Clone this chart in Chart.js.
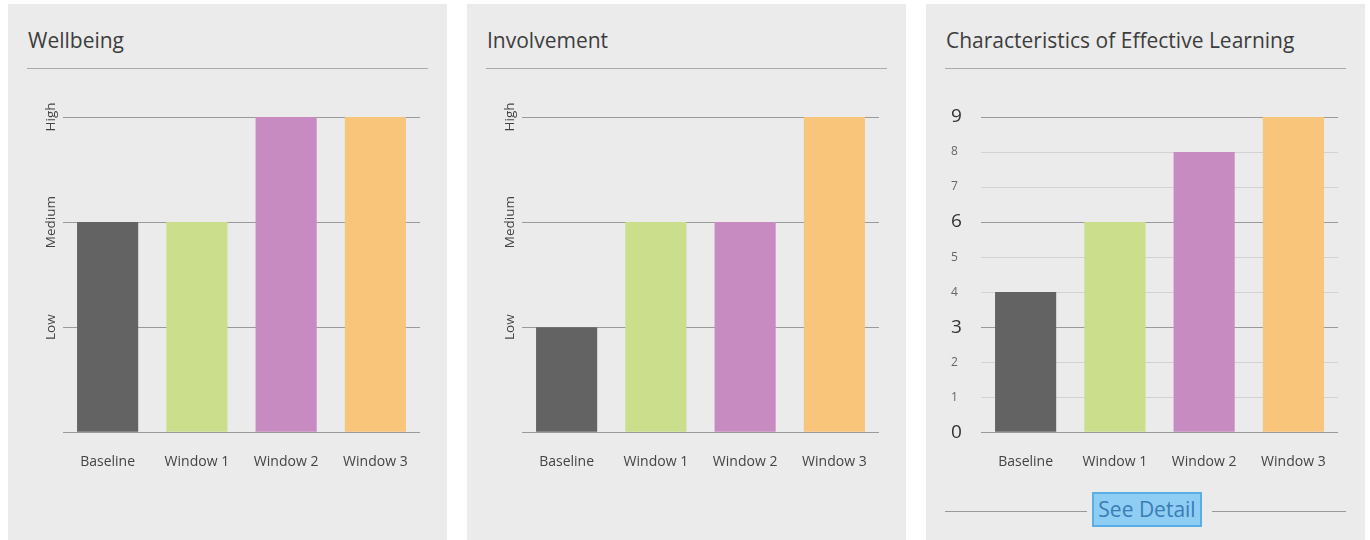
<!DOCTYPE html>
<html>
<head>
<meta charset="utf-8">
<script src="https://cdn.jsdelivr.net/npm/chart.js@4.4.0/dist/chart.umd.min.js"></script>
<style>
  body { margin: 0; background: #fff; font-family: "Open Sans", sans-serif; }
  .panel { position: absolute; top: 4px; width: 439px; height: 536px; background: #ebebeb; }
  .panel h2 { position: absolute; left: 20px; top: 22px; margin: 0; font-size: 21px; font-weight: 400; color: #3d3d3d; white-space: nowrap; }
  .rule { position: absolute; left: 19px; top: 64px; width: 401px; height: 1px; background: #aaa; }
  .panel canvas { position: absolute; left: 0; top: 86px; }
  .detail-line { position: absolute; top: 507px; height: 1px; background: #999; }
  .detail { position: absolute; left: 166px; top: 488px; width: 106px; height: 31px; background: #8ecdf4;
            border: 2px solid #5aaee6; color: #3a7db3; font-size: 21px; line-height: 31px; text-align: center; }
</style>
</head>
<body>
<div class="panel" style="left:8px">
  <h2>Wellbeing</h2><div class="rule"></div>
  <canvas id="wellbeingChart" width="439" height="422"></canvas>
</div>
<div class="panel" style="left:467px">
  <h2>Involvement</h2><div class="rule"></div>
  <canvas id="involvementChart" width="439" height="422"></canvas>
</div>
<div class="panel" style="left:926px">
  <h2>Characteristics of Effective Learning</h2><div class="rule"></div>
  <canvas id="learningChart" width="439" height="422"></canvas>
  <div class="detail-line" style="left:19px;width:142px"></div>
  <div class="detail">See Detail</div>
  <div class="detail-line" style="left:286px;width:134px"></div>
</div>
<script>
const categories = ["Baseline", "Window 1", "Window 2", "Window 3"];
const wellbeingValues = [2, 2, 3, 3];
const involvementValues = [1, 2, 2, 3];
const learningValues = [4, 6, 8, 9];
const levelLabels = ["", "Low", "Medium", "High"];
const barColors = ["#636363", "#cbde8b", "#c78bc1", "#f8c57b"];

// rotated Low / Medium / High labels next to the y axis
const sideLabels = {
  id: "sideLabels",
  afterDraw(chart, args, opts) {
    if (!opts.labels) return;
    const y = chart.scales.y;
    const ctx = chart.ctx;
    ctx.save();
    ctx.font = '13.5px "Open Sans"';
    ctx.fillStyle = "#444";
    ctx.textAlign = "center";
    ctx.textBaseline = "middle";
    y.ticks.forEach((t) => {
      const lab = opts.labels[t.value];
      if (!lab) return;
      ctx.save();
      ctx.translate(opts.x, y.getPixelForValue(t.value));
      ctx.rotate(-Math.PI / 2);
      ctx.fillText(lab, 0, 0);
      ctx.restore();
    });
    ctx.restore();
  },
};

const createChart = (id, values, max, numeric) => {
  const ctx = document.getElementById(id).getContext("2d");
  return new Chart(ctx, {
    type: "bar",
    data: {
      labels: categories,
      datasets: [{
        data: values,
        backgroundColor: barColors,
        barPercentage: 0.685,
        categoryPercentage: 1,
      }],
    },
    plugins: [sideLabels],
    options: {
      responsive: false,
      animation: false,
      layout: { padding: { left: numeric ? 25 : 55, right: 27, top: 27, bottom: 21 } },
      plugins: {
        legend: { display: false },
        tooltip: { enabled: false },
        sideLabels: { labels: numeric ? null : levelLabels, x: 43 },
      },
      scales: {
        x: {
          grid: { display: false, drawTicks: false },
          border: { display: false },
          ticks: { padding: 21, color: "#444", font: { family: "Open Sans", size: 14 } },
        },
        y: {
          min: 0,
          max: max,
          ticks: {
            stepSize: 1,
            display: numeric,
            crossAlign: "far",
            padding: 0,
            color: (c) => (c.tick && c.tick.value % 3 === 0 ? "#333" : "#666"),
            font: (c) => ({ family: "Open Sans", size: c.tick && c.tick.value % 3 === 0 ? 19 : 12 }),
          },
          grid: {
            drawTicks: false,
            color: (c) => (!numeric || c.tick.value % 3 === 0 ? "#9a9a9a" : "#d2d2d2"),
          },
          border: { display: false },
          afterFit: (scale) => { scale.width = numeric ? 30 : 0; },
        },
      },
    },
  });
};

createChart("wellbeingChart", wellbeingValues, 3, false);
createChart("involvementChart", involvementValues, 3, false);
createChart("learningChart", learningValues, 9, true);
</script>
</body>
</html>
